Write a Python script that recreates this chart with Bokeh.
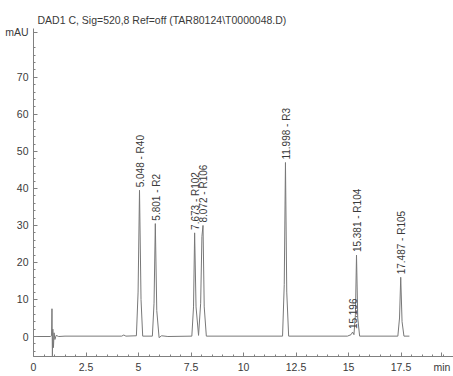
from math import pi
from bokeh.plotting import figure
from bokeh.models import Range1d, FixedTicker, ColumnDataSource
from bokeh.embed import file_html
from bokeh.resources import INLINE

# Peak table (retention time, height in mAU, annotation)
peak_times = [5.048, 5.801, 7.673, 8.072, 11.998, 15.196, 15.381, 17.487]
peak_heights = [39.5, 30.5, 28.0, 30.0, 47.0, 1.2, 22.0, 16.0]
peak_names = ["5.048 - R40", "5.801 - R2", "7.673 - R102", "8.072 - R106",
              "11.998 - R3", "15.196", "15.381 - R104", "17.487 - R105"]

# Detector trace (min, mAU)
trace_t = [0.0, 0.80, 0.86, 0.88, 0.90, 0.92, 0.95, 0.98, 1.02, 1.08, 1.2, 1.5,
           4.2, 4.3, 4.4, 4.90, 4.98, 5.048, 5.12, 5.20, 5.66, 5.74, 5.801, 5.87,
           5.98, 6.1, 6.4, 7.54, 7.62, 7.673, 7.74, 7.86, 7.96, 8.02, 8.072, 8.13,
           8.23, 11.86, 11.94, 11.998, 12.06, 12.15, 14.95, 15.12, 15.196, 15.26,
           15.33, 15.381, 15.44, 15.53, 17.35, 17.43, 17.487, 17.55, 17.64, 17.9]
trace_y = [0.0, 0.0, 0.2, 7.5, -5.6, 2.0, -3.0, 1.0, -0.8, 0.3, 0.0, 0.1,
           0.1, 0.4, 0.1, 0.2, 12.0, 39.5, 10.0, 0.1, 0.1, 9.0, 30.5, 7.0,
           -0.3, 0.2, 0.0, 0.1, 8.0, 28.0, 8.0, 0.3, 9.0, 27.0, 30.0, 8.0,
           0.1, 0.1, 14.0, 47.0, 12.0, 0.1, 0.1, 0.5, 1.2, 0.5,
           6.0, 22.0, 5.0, 0.1, 0.1, 5.0, 16.0, 4.0, 0.1, 0.1]

x_major = [0, 2.5, 5, 7.5, 10, 12.5, 15, 17.5]
y_major = [0, 10, 20, 30, 40, 50, 60, 70]

title_text = "DAD1 C, Sig=520,8 Ref=off (TAR80124\\T0000048.D)"
y_unit = "mAU"
x_unit = "min"
Y_UNIT_POS = 82.2   # where the unit sits on the value axis
X_UNIT_POS = 19.45  # where the unit sits on the time axis

FONT = "Liberation Sans"
GREY_TEXT = "#3a3a3a"
GREY_LINE = "#808080"

p = figure(width=453, height=376, output_backend="svg", toolbar_location=None,
           x_range=Range1d(0, 20), y_range=Range1d(-5.4, 83.2),
           min_border_left=33, min_border_right=0, min_border_top=28,
           min_border_bottom=20, title=title_text)
p.outline_line_color = None
p.background_fill_color = "white"
p.border_fill_color = "white"
p.xgrid.visible = False
p.ygrid.visible = False

p.title.align = "left"
p.title.vertical_align = "middle"
p.title.offset = 4
p.title.standoff = 4
p.title.text_font = FONT
p.title.text_font_style = "normal"
p.title.text_font_size = "10.5px"
p.title.text_color = GREY_TEXT

src = ColumnDataSource(dict(t=trace_t, y=trace_y))
p.line("t", "y", source=src, line_color="#787878", line_width=1.0)

lab = ColumnDataSource(dict(t=[t + 0.04 for t in peak_times],
                            y=[h + 0.8 for h in peak_heights], name=peak_names))
p.text("t", "y", text="name", source=lab, angle=pi / 2,
       text_align="left", text_baseline="middle",
       text_font_size="10px", text_color=GREY_TEXT,
       text_font={"value": FONT})

for ax in (p.xaxis[0], p.yaxis[0]):
    ax.axis_line_color = GREY_LINE
    ax.major_tick_line_color = GREY_LINE
    ax.minor_tick_line_color = GREY_LINE
    ax.major_tick_in = 4
    ax.major_tick_out = 0
    ax.minor_tick_in = 2
    ax.minor_tick_out = 0
    ax.major_label_text_font = FONT
    ax.major_label_text_font_size = "10.5px"
    ax.major_label_text_color = GREY_TEXT

p.xaxis[0].ticker = FixedTicker(ticks=x_major + [X_UNIT_POS],
                                minor_ticks=[i * 0.5 for i in range(40)])
p.yaxis[0].ticker = FixedTicker(ticks=y_major + [Y_UNIT_POS],
                                minor_ticks=[-4 + i * 2 for i in range(42)])
p.xaxis[0].major_label_overrides = {X_UNIT_POS: x_unit}
p.yaxis[0].major_label_overrides = {Y_UNIT_POS: y_unit}
p.xaxis[0].major_label_standoff = 4
p.yaxis[0].major_label_standoff = 5

open("out.html", "w").write(file_html(p, INLINE))
